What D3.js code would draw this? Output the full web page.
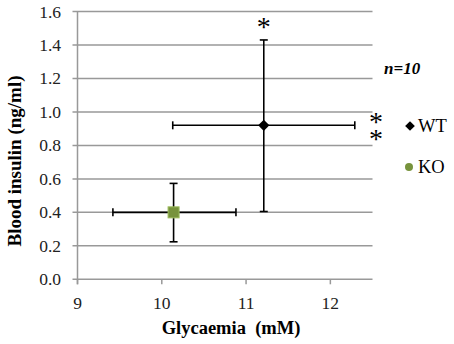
<!DOCTYPE html>
<html>
<head>
<meta charset="utf-8">
<script src="https://cdn.jsdelivr.net/npm/d3@7"></script>
<style>
  body { margin: 0; background: #fff; }
  text { font-family: "Liberation Serif", "Times New Roman", serif; }
</style>
</head>
<body>
<svg id="chart" width="454" height="344"></svg>
<script>
// groups and their mean +/- error
const groups = ["WT", "KO"];
const glycaemia = [11.21, 10.14];
const glycLow = [10.13, 9.42];
const glycHigh = [12.29, 10.88];
const insulin = [0.92, 0.40];
const insLow = [0.405, 0.224];
const insHigh = [1.43, 0.573];
const xTicks = [9, 10, 11, 12];
const yTicks = [0, 0.2, 0.4, 0.6, 0.8, 1.0, 1.2, 1.4, 1.6];

const svg = d3.select("#chart");

const x = d3.scaleLinear().domain([9, 12.5]).range([77.5, 372.5]);
const y = d3.scaleLinear().domain([0, 1.6]).range([279.3, 11.5]);

const gridColor = "#999";

// horizontal gridlines
svg.append("g")
  .selectAll("line")
  .data(yTicks)
  .enter().append("line")
  .attr("x1", x(9) - 5).attr("x2", x(12.5))
  .attr("y1", d => y(d)).attr("y2", d => y(d))
  .attr("stroke", gridColor).attr("stroke-width", 1.5);

// y axis line
svg.append("line")
  .attr("x1", x(9)).attr("x2", x(9))
  .attr("y1", y(1.6)).attr("y2", y(0) + 5)
  .attr("stroke", gridColor).attr("stroke-width", 1.5);

// x tick marks
svg.append("g")
  .selectAll("line")
  .data(xTicks)
  .enter().append("line")
  .attr("x1", d => x(d)).attr("x2", d => x(d))
  .attr("y1", y(0)).attr("y2", y(0) + 5)
  .attr("stroke", gridColor).attr("stroke-width", 1.5);

// tick labels
svg.append("g")
  .selectAll("text")
  .data(yTicks)
  .enter().append("text")
  .attr("x", 61).attr("y", d => y(d) + 6)
  .attr("text-anchor", "end")
  .attr("font-size", 17.5)
  .attr("fill", "#222")
  .text(d => d3.format(".1f")(d));

svg.append("g")
  .selectAll("text")
  .data(xTicks)
  .enter().append("text")
  .attr("x", d => x(d)).attr("y", 309)
  .attr("text-anchor", "middle")
  .attr("font-size", 17.5)
  .attr("fill", "#222")
  .text(d => d);

// axis titles
svg.append("text")
  .attr("x", 231).attr("y", 334)
  .attr("text-anchor", "middle")
  .attr("font-size", 18.5).attr("font-weight", "bold")
  .attr("xml:space", "preserve")
  .text("Glycaemia  (mM)");

svg.append("text")
  .attr("transform", "translate(21,161) rotate(-90)")
  .attr("text-anchor", "middle")
  .attr("font-size", 19).attr("font-weight", "bold")
  .text("Blood insulin (ng/ml)");

// error bars
const bars = svg.append("g").attr("stroke", "#000").attr("stroke-width", 1.6);
const cap = 4;
groups.forEach((g, i) => {
  const cx = x(glycaemia[i]), cy = y(insulin[i]);
  bars.append("line").attr("x1", x(glycLow[i])).attr("x2", x(glycHigh[i])).attr("y1", cy).attr("y2", cy);
  bars.append("line").attr("x1", x(glycLow[i])).attr("x2", x(glycLow[i])).attr("y1", cy - cap).attr("y2", cy + cap);
  bars.append("line").attr("x1", x(glycHigh[i])).attr("x2", x(glycHigh[i])).attr("y1", cy - cap).attr("y2", cy + cap);
  bars.append("line").attr("x1", cx).attr("x2", cx).attr("y1", y(insLow[i])).attr("y2", y(insHigh[i]));
  bars.append("line").attr("x1", cx - cap).attr("x2", cx + cap).attr("y1", y(insLow[i])).attr("y2", y(insLow[i]));
  bars.append("line").attr("x1", cx - cap).attr("x2", cx + cap).attr("y1", y(insHigh[i])).attr("y2", y(insHigh[i]));
});

// markers
svg.append("path")
  .attr("d", d3.symbol(d3.symbolDiamond2, 80)())
  .attr("transform", `translate(${x(glycaemia[0])},${y(insulin[0])})`)
  .attr("fill", "#000");

svg.append("rect")
  .attr("x", x(glycaemia[1]) - 5.5).attr("y", y(insulin[1]) - 5.5)
  .attr("width", 11).attr("height", 11)
  .attr("fill", "#77933c").attr("stroke", "#9bbb59").attr("stroke-width", 1);

// significance marks
svg.append("text")
  .attr("x", x(glycaemia[0])).attr("y", 36)
  .attr("text-anchor", "middle").attr("font-size", 28)
  .text("*");
// stacked pair, one text element set vertically
svg.append("text")
  .attr("x", 376).attr("y", 106)
  .style("writing-mode", "vertical-rl")
  .style("text-orientation", "upright")
  .attr("letter-spacing", -14)
  .attr("font-size", 28)
  .text("**");

svg.append("text")
  .attr("x", 384).attr("y", 74)
  .attr("font-size", 17).attr("font-weight", "bold").attr("font-style", "italic")
  .text("n=10");

// legend
svg.append("path")
  .attr("d", d3.symbol(d3.symbolDiamond2, 60)())
  .attr("transform", "translate(410,126)")
  .attr("fill", "#000");
svg.append("text").attr("x", 418).attr("y", 132).attr("font-size", 18.5).text(groups[0]);

svg.append("circle").attr("cx", 409).attr("cy", 167).attr("r", 4).attr("fill", "#77933c");
svg.append("text").attr("x", 418).attr("y", 173).attr("font-size", 18.5).text(groups[1]);
</script>
</body>
</html>
